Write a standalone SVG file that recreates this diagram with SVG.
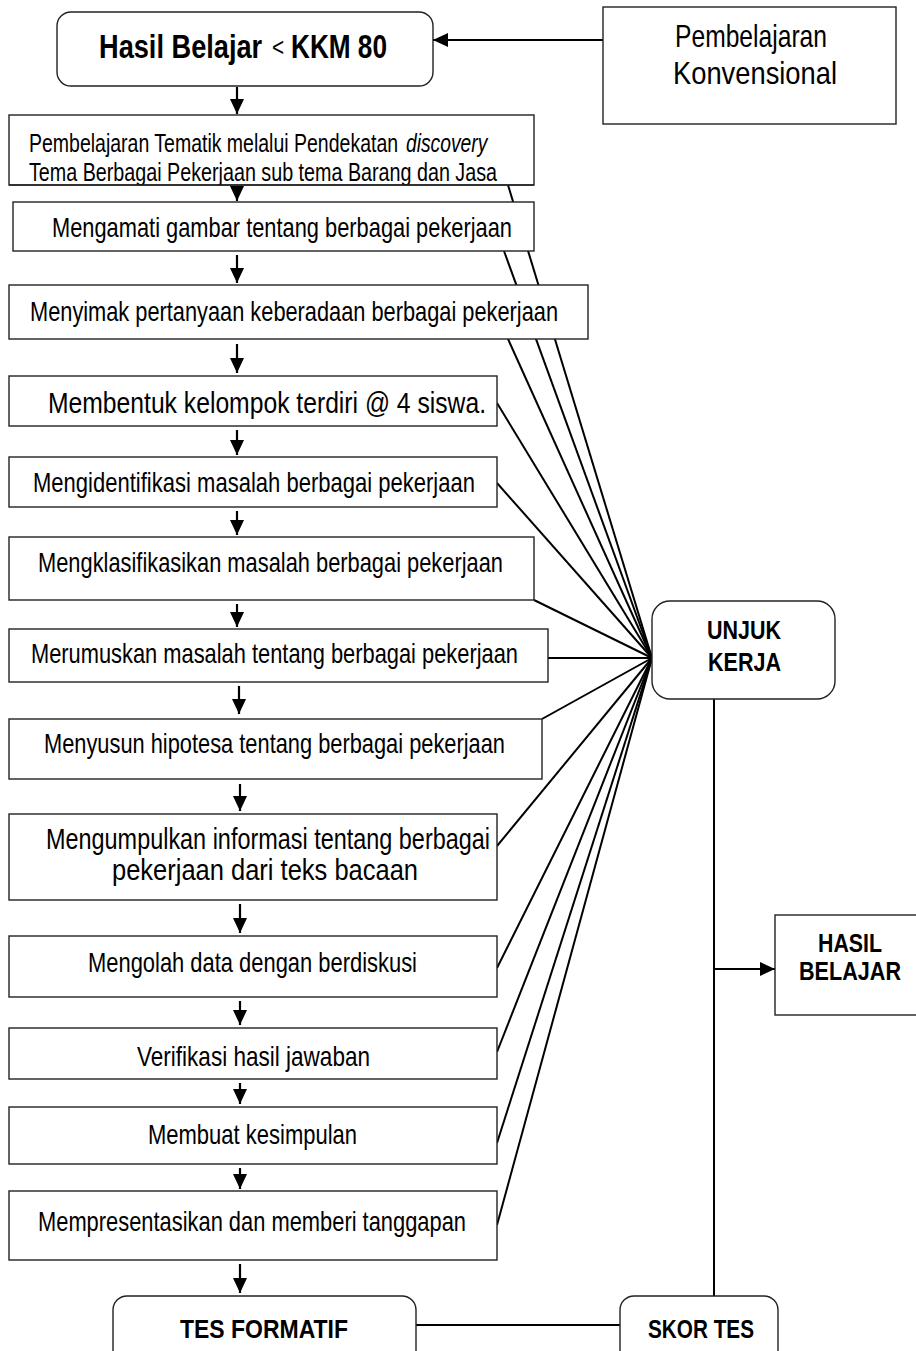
<svg xmlns="http://www.w3.org/2000/svg" width="916" height="1351" viewBox="0 0 916 1351">
<style>
.bx{fill:#fff;stroke:#222;stroke-width:1.4}
.ln{stroke:#000;stroke-width:2;fill:none}
.ar{stroke:#000;stroke-width:2.2;fill:none;marker-end:url(#ah)}
.t{font-family:"Liberation Sans",Arial,sans-serif;font-size:28px;fill:#000;text-anchor:middle}
.d{font-family:"Liberation Sans",Arial,sans-serif;font-size:25px;fill:#000}
.b{font-family:"Liberation Sans",Arial,sans-serif;font-weight:bold;fill:#000;text-anchor:middle}
.s{text-anchor:start}
</style>
<defs>
<marker id="ah" markerUnits="userSpaceOnUse" markerWidth="15" markerHeight="14" refX="15" refY="7" orient="auto">
<path d="M0,0 L15,7 L0,14 z" fill="#000"/>
</marker>
<clipPath id="cd"><rect x="9" y="115" width="525" height="70"/></clipPath>
</defs>
<rect width="916" height="1351" fill="#fff"/>
<g id="connectors">
<line class="ln" x1="508" y1="185" x2="652" y2="658"/>
<line class="ln" x1="504" y1="251" x2="652" y2="658"/>
<line class="ln" x1="508" y1="339" x2="652" y2="658"/>
<line class="ln" x1="497" y1="403" x2="652" y2="658"/>
<line class="ln" x1="497" y1="483" x2="652" y2="658"/>
<line class="ln" x1="534" y1="600" x2="652" y2="658"/>
<line class="ln" x1="548" y1="658" x2="652" y2="658"/>
<line class="ln" x1="542" y1="719" x2="652" y2="658"/>
<line class="ln" x1="497" y1="846" x2="652" y2="658"/>
<line class="ln" x1="497" y1="968" x2="652" y2="658"/>
<line class="ln" x1="497" y1="1052" x2="652" y2="658"/>
<line class="ln" x1="497" y1="1143" x2="652" y2="658"/>
<line class="ln" x1="497" y1="1225" x2="652" y2="658"/>
<line class="ar" x1="603" y1="40" x2="433" y2="40"/>
<line class="ar" x1="237" y1="87" x2="237" y2="114"/>
<line class="ar" x1="237" y1="186" x2="237" y2="201"/>
<line class="ar" x1="237" y1="255" x2="237" y2="283"/>
<line class="ar" x1="237" y1="344" x2="237" y2="373"/>
<line class="ar" x1="237" y1="430" x2="237" y2="455"/>
<line class="ar" x1="237" y1="511" x2="237" y2="535"/>
<line class="ar" x1="237" y1="604" x2="237" y2="627"/>
<line class="ar" x1="239" y1="686" x2="239" y2="714"/>
<line class="ar" x1="240" y1="784" x2="240" y2="811"/>
<line class="ar" x1="240" y1="904" x2="240" y2="933"/>
<line class="ar" x1="240" y1="1001" x2="240" y2="1025"/>
<line class="ar" x1="240" y1="1083" x2="240" y2="1104"/>
<line class="ar" x1="240" y1="1168" x2="240" y2="1189"/>
<line class="ar" x1="240" y1="1264" x2="240" y2="1293"/>
<line class="ln" x1="714" y1="699" x2="714" y2="1296"/>
<line class="ar" x1="714" y1="969" x2="775" y2="969"/>
<line class="ln" x1="416" y1="1325" x2="620" y2="1325"/>
</g>
<g id="n-top">
<rect class="bx" x="57" y="12" width="376" height="74" rx="14"/>
<text class="b s" transform="translate(99,58) scale(0.8,1)" font-size="34">Hasil Belajar</text>
<text class="t s" transform="translate(272,56) scale(0.8,1)" style="font-size:26px" fill="#445">&lt;</text>
<text class="b s" transform="translate(291,58) scale(0.77,1)" font-size="34">KKM 80</text>
</g>
<g id="n-konvensional">
<rect class="bx" x="603" y="7" width="293" height="117"/>
<text class="t" x="751" y="47" style="font-size:32px" textLength="152" lengthAdjust="spacingAndGlyphs">Pembelajaran</text>
<text class="t" x="755" y="84" style="font-size:32px" textLength="164" lengthAdjust="spacingAndGlyphs">Konvensional</text>
</g>
<g id="n-discovery">
<rect class="bx" x="9" y="115" width="525" height="70"/>
<g clip-path="url(#cd)">
<text class="d" transform="translate(29,152) scale(0.78,1)">Pembelajaran Tematik melalui Pendekatan</text>
<text class="d" transform="translate(406,152) scale(0.77,1)" font-style="italic">discovery</text>
<text class="d" x="29" y="181" textLength="468" lengthAdjust="spacingAndGlyphs">Tema Berbagai Pekerjaan sub tema Barang dan Jasa</text>
</g>
<line x1="9" y1="185" x2="534" y2="185" stroke="#222" stroke-width="1.4"/>
</g>
<g id="n-mengamati">
<rect class="bx" x="13" y="202" width="521" height="49"/>
<text class="t" x="282" y="237" textLength="460" lengthAdjust="spacingAndGlyphs">Mengamati gambar tentang berbagai pekerjaan</text>
</g>
<g id="n-menyimak">
<rect class="bx" x="9" y="285" width="579" height="54"/>
<text class="t" x="294" y="321" textLength="528" lengthAdjust="spacingAndGlyphs">Menyimak pertanyaan keberadaan berbagai pekerjaan</text>
</g>
<g id="n-membentuk">
<rect class="bx" x="9" y="376" width="488" height="50"/>
<text class="t" x="267" y="413" style="font-size:29px" textLength="438" lengthAdjust="spacingAndGlyphs">Membentuk kelompok terdiri @ 4 siswa.</text>
</g>
<g id="n-mengidentifikasi">
<rect class="bx" x="9" y="457" width="488" height="50"/>
<text class="t" x="254" y="492" textLength="442" lengthAdjust="spacingAndGlyphs">Mengidentifikasi masalah berbagai pekerjaan</text>
</g>
<g id="n-mengklasifikasikan">
<rect class="bx" x="9" y="537" width="525" height="63"/>
<text class="t" x="270.5" y="572" textLength="465" lengthAdjust="spacingAndGlyphs">Mengklasifikasikan masalah berbagai pekerjaan</text>
</g>
<g id="n-merumuskan">
<rect class="bx" x="9" y="629" width="539" height="53"/>
<text class="t" x="274.5" y="663" textLength="487" lengthAdjust="spacingAndGlyphs">Merumuskan masalah tentang berbagai pekerjaan</text>
</g>
<g id="n-menyusun">
<rect class="bx" x="9" y="719" width="533" height="60"/>
<text class="t" x="274.5" y="753" textLength="461" lengthAdjust="spacingAndGlyphs">Menyusun hipotesa tentang berbagai pekerjaan</text>
</g>
<g id="n-mengumpulkan">
<rect class="bx" x="9" y="814" width="488" height="86"/>
<text class="t" x="268" y="849" style="font-size:29px" textLength="444" lengthAdjust="spacingAndGlyphs">Mengumpulkan informasi tentang berbagai</text>
<text class="t" x="265" y="880" style="font-size:29px" textLength="306" lengthAdjust="spacingAndGlyphs">pekerjaan dari teks bacaan</text>
</g>
<g id="n-mengolah">
<rect class="bx" x="9" y="936" width="488" height="61"/>
<text class="t" x="252.5" y="972" textLength="329" lengthAdjust="spacingAndGlyphs">Mengolah data dengan berdiskusi</text>
</g>
<g id="n-verifikasi">
<rect class="bx" x="9" y="1028" width="488" height="51"/>
<text class="t" x="253.5" y="1066" textLength="233" lengthAdjust="spacingAndGlyphs">Verifikasi hasil jawaban</text>
</g>
<g id="n-membuat">
<rect class="bx" x="9" y="1107" width="488" height="57"/>
<text class="t" x="252.5" y="1144" textLength="209" lengthAdjust="spacingAndGlyphs">Membuat kesimpulan</text>
</g>
<g id="n-mempresentasikan">
<rect class="bx" x="9" y="1191" width="488" height="69"/>
<text class="t" x="252" y="1231" textLength="428" lengthAdjust="spacingAndGlyphs">Mempresentasikan dan memberi tanggapan</text>
</g>
<g id="n-tes-formatif">
<rect class="bx" x="113" y="1296" width="303" height="80" rx="14"/>
<text class="b" x="264" y="1338" font-size="25" textLength="168" lengthAdjust="spacingAndGlyphs">TES FORMATIF</text>
</g>
<g id="n-skor-tes">
<rect class="bx" x="620" y="1296" width="158" height="80" rx="14"/>
<text class="b" x="701" y="1338" font-size="25" textLength="106" lengthAdjust="spacingAndGlyphs">SKOR TES</text>
</g>
<g id="n-unjuk-kerja">
<rect class="bx" x="652" y="601" width="183" height="98" rx="18"/>
<text class="b" x="744" y="639" font-size="25" textLength="74" lengthAdjust="spacingAndGlyphs">UNJUK</text>
<text class="b" x="744.5" y="671" font-size="25" textLength="73" lengthAdjust="spacingAndGlyphs">KERJA</text>
</g>
<g id="n-hasil-belajar">
<rect class="bx" x="775" y="915" width="160" height="100"/>
<text class="b" x="850" y="952" font-size="25" textLength="64" lengthAdjust="spacingAndGlyphs">HASIL</text>
<text class="b" x="850" y="980" font-size="25" textLength="102" lengthAdjust="spacingAndGlyphs">BELAJAR</text>
</g>
</svg>
